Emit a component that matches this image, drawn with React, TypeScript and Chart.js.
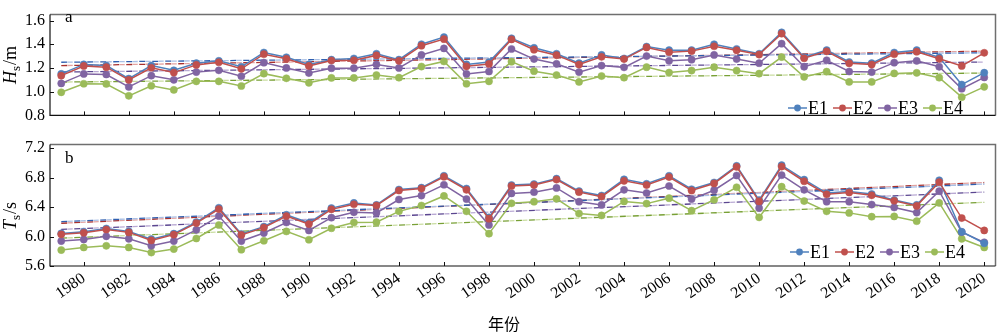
import React, { useEffect, useRef } from 'react';
import { Chart, registerables } from 'chart.js';
Chart.register(...registerables);

const years = [1979,1980,1981,1982,1983,1984,1985,1986,1987,1988,1989,1990,1991,1992,1993,1994,1995,1996,1997,1998,1999,2000,2001,2002,2003,2004,2005,2006,2007,2008,2009,2010,2011,2012,2013,2014,2015,2016,2017,2018,2019,2020];
const xTickLabels = [1980,1982,1984,1986,1988,1990,1992,1994,1996,1998,2000,2002,2004,2006,2008,2010,2012,2014,2016,2018,2020];
const seriesNames = ['E1', 'E2', 'E3', 'E4'];

// Panel a: significant wave height Hs (m)
const hsE1 = [1.15,1.23,1.22,1.11,1.22,1.18,1.24,1.26,1.21,1.33,1.29,1.23,1.27,1.28,1.32,1.27,1.40,1.46,1.23,1.25,1.45,1.37,1.32,1.24,1.31,1.28,1.38,1.35,1.35,1.40,1.36,1.32,1.50,1.29,1.35,1.25,1.24,1.33,1.35,1.29,1.06,1.16];
const hsE2 = [1.135,1.217,1.207,1.099,1.202,1.161,1.226,1.248,1.193,1.316,1.277,1.217,1.263,1.265,1.306,1.260,1.388,1.443,1.214,1.234,1.441,1.354,1.308,1.229,1.294,1.275,1.373,1.333,1.342,1.383,1.349,1.313,1.489,1.282,1.340,1.239,1.229,1.316,1.337,1.277,1.217,1.328];
const hsE3 = [1.07,1.15,1.145,1.04,1.135,1.10,1.165,1.18,1.13,1.245,1.20,1.157,1.198,1.198,1.23,1.20,1.31,1.365,1.15,1.17,1.36,1.275,1.235,1.165,1.22,1.205,1.30,1.26,1.27,1.31,1.275,1.24,1.405,1.21,1.265,1.17,1.165,1.245,1.26,1.21,1.025,1.12];
const hsE4 = [0.995,1.067,1.065,0.965,1.05,1.015,1.087,1.087,1.048,1.152,1.113,1.075,1.116,1.116,1.14,1.118,1.212,1.255,1.067,1.087,1.253,1.173,1.14,1.082,1.132,1.118,1.207,1.161,1.178,1.207,1.178,1.152,1.292,1.125,1.169,1.082,1.082,1.154,1.159,1.118,0.954,1.041];
const hsTrendStart = [1.248, 1.220, 1.166, 1.081];
const hsTrendEnd = [1.328, 1.342, 1.250, 1.157];
const hsTicks = [0.8, 1.0, 1.2, 1.4, 1.6];

// Panel b: wave period Ts (s)
const tsE1 = [6.043,6.065,6.109,6.070,5.965,6.039,6.196,6.391,6.035,6.135,6.296,6.187,6.387,6.457,6.430,6.639,6.665,6.826,6.652,6.261,6.700,6.713,6.787,6.617,6.557,6.778,6.717,6.826,6.643,6.735,6.961,6.496,6.970,6.774,6.591,6.613,6.578,6.496,6.430,6.765,6.065,5.909];
const tsE2 = [6.030,6.052,6.096,6.057,5.948,6.026,6.183,6.374,6.022,6.122,6.278,6.170,6.370,6.439,6.422,6.626,6.652,6.813,6.635,6.243,6.687,6.700,6.774,6.604,6.543,6.757,6.700,6.809,6.626,6.722,6.948,6.478,6.952,6.752,6.574,6.600,6.561,6.487,6.417,6.739,6.252,6.083];
const tsE3 = [5.939,5.961,6.004,5.970,5.874,5.939,6.091,6.278,5.939,6.048,6.191,6.083,6.257,6.330,6.322,6.504,6.557,6.704,6.509,6.157,6.587,6.604,6.661,6.474,6.430,6.635,6.591,6.687,6.509,6.630,6.830,6.387,6.835,6.635,6.474,6.474,6.435,6.396,6.326,6.617,6.061,5.922];
const tsE4 = [5.817,5.852,5.874,5.852,5.783,5.830,5.974,6.157,5.822,5.943,6.070,5.957,6.113,6.191,6.196,6.343,6.422,6.552,6.343,6.039,6.452,6.474,6.513,6.313,6.287,6.478,6.448,6.522,6.352,6.500,6.670,6.261,6.678,6.483,6.343,6.322,6.270,6.274,6.209,6.457,5.970,5.852];
const tsTrendStart = [6.203, 6.181, 6.097, 5.978];
const tsTrendEnd = [6.713, 6.735, 6.604, 6.465];
const tsTicks = [5.6, 6.0, 6.4, 6.8, 7.2];

const COLORS = ['#4F81BD', '#C0504D', '#8064A2', '#9BBB59'];
const TREND_DARK = ['#2F5FB0', '#A8302D', '#5B4690', '#78A035'];
const TREND_LIGHT = ['#A9C0E6', '#E3A3A1', '#B9A9D4', '#C9DDA0'];
const ORDER = [2, 1, 3, 4];
const SERIF = "'Liberation Serif', 'Times New Roman', serif";

type PanelCfg = {
  label: string;
  labelY: number;
  tMain: string;
  tSub: string;
  tRest: string;
  titleCY: number;
  yMin: number;
  yMax: number;
  yTicks: number[];
  series: number[][];
  trendStart: number[];
  trendEnd: number[];
  showXLabels: boolean;
  xAxisHeight: number;
  padTop: number;
  legendX: number;
  legendY: number;
  xTitleY?: number;
};

function makeChart(canvas: HTMLCanvasElement, cfg: PanelCfg) {
  const datasets: any[] = [];
  cfg.series.forEach((vals, i) => {
    datasets.push({
      label: seriesNames[i],
      data: years.map((y, k) => ({ x: y, y: vals[k] })),
      borderColor: COLORS[i],
      backgroundColor: COLORS[i],
      pointBackgroundColor: COLORS[i],
      pointBorderColor: COLORS[i],
      borderWidth: 1.5,
      pointRadius: 3.6,
      pointBorderWidth: 0.5,
      tension: 0,
      order: ORDER[i],
    });
  });
  cfg.series.forEach((_, i) => {
    const trend = [
      { x: years[0], y: cfg.trendStart[i] },
      { x: years[years.length - 1], y: cfg.trendEnd[i] },
    ];
    datasets.push({
      label: seriesNames[i] + ' trend',
      data: trend,
      borderColor: TREND_DARK[i],
      borderWidth: 1.3,
      borderDash: [6, 7],
      borderDashOffset: 0,
      pointRadius: 0,
      order: 10 + i,
    });
    datasets.push({
      label: seriesNames[i] + ' trend light',
      data: trend,
      borderColor: TREND_LIGHT[i],
      borderWidth: 1.3,
      borderDash: [5, 8],
      borderDashOffset: 6.5,
      pointRadius: 0,
      order: 20 + i,
    });
  });

  const decor = {
    id: 'decor',
    afterDraw(chart: any) {
      const { ctx, chartArea } = chart;
      const { left, top, right, bottom } = chartArea;
      const xs = chart.scales.x;
      const ys = chart.scales.y;
      ctx.save();
      ctx.lineWidth = 1.5;
      ctx.strokeStyle = '#6f6f6f';
      ctx.beginPath();
      ctx.moveTo(left, top);
      ctx.lineTo(right, top);
      ctx.lineTo(right, bottom);
      ctx.stroke();
      ctx.strokeStyle = '#111';
      ctx.lineWidth = 1.2;
      ctx.beginPath();
      ctx.moveTo(left, top);
      ctx.lineTo(left, bottom);
      ctx.lineTo(right, bottom);
      ctx.stroke();
      ctx.lineWidth = 1;
      ctx.beginPath();
      xTickLabels.forEach((v) => {
        const px = Math.round(xs.getPixelForValue(v)) + 0.5;
        ctx.moveTo(px, bottom);
        ctx.lineTo(px, bottom - 4);
      });
      cfg.yTicks.forEach((v) => {
        const py = Math.round(ys.getPixelForValue(v)) + 0.5;
        ctx.moveTo(left, py);
        ctx.lineTo(left + 4, py);
      });
      ctx.stroke();

      ctx.fillStyle = '#000';
      ctx.font = `17px ${SERIF}`;
      ctx.textAlign = 'left';
      ctx.textBaseline = 'alphabetic';
      ctx.fillText(cfg.label, 65, cfg.labelY);

      const mainFont = `italic 18px ${SERIF}`;
      const subFont = `13px ${SERIF}`;
      const restFont = `18px ${SERIF}`;
      ctx.font = mainFont;
      const w1 = ctx.measureText(cfg.tMain).width;
      ctx.font = subFont;
      const w2 = ctx.measureText(cfg.tSub).width;
      ctx.font = restFont;
      const w3 = ctx.measureText(cfg.tRest).width;
      const total = w1 + w2 + 1 + w3;
      ctx.translate(16, cfg.titleCY);
      ctx.rotate(-Math.PI / 2);
      let cx = -total / 2;
      ctx.font = mainFont;
      ctx.fillText(cfg.tMain, cx, 0);
      cx += w1;
      ctx.font = subFont;
      ctx.fillText(cfg.tSub, cx, 4);
      cx += w2 + 1;
      ctx.font = restFont;
      ctx.fillText(cfg.tRest, cx, 0);
      ctx.setTransform(1, 0, 0, 1, 0, 0);

      ctx.font = `18px ${SERIF}`;
      ctx.textBaseline = 'middle';
      seriesNames.forEach((name, i) => {
        const x0 = cfg.legendX + i * 45;
        const y0 = cfg.legendY;
        ctx.strokeStyle = COLORS[i];
        ctx.lineWidth = 1.5;
        ctx.beginPath();
        ctx.moveTo(x0, y0);
        ctx.lineTo(x0 + 19, y0);
        ctx.stroke();
        ctx.fillStyle = COLORS[i];
        ctx.beginPath();
        ctx.arc(x0 + 9.5, y0, 3.4, 0, Math.PI * 2);
        ctx.fill();
        ctx.fillStyle = '#000';
        ctx.fillText(name, x0 + 20, y0 + 1);
      });

      if (cfg.xTitleY !== undefined) {
        ctx.font = `16px 'Noto Sans CJK SC', sans-serif`;
        ctx.textAlign = 'center';
        ctx.textBaseline = 'middle';
        ctx.fillStyle = '#000';
        ctx.fillText('年份', 504, cfg.xTitleY);
      }
      ctx.restore();
    },
  };

  return new Chart(canvas, {
    type: 'line',
    data: { datasets },
    options: {
      animation: false,
      responsive: false,
      maintainAspectRatio: false,
      layout: { padding: { top: cfg.padTop, right: 2, left: 0, bottom: 0 } },
      plugins: { legend: { display: false }, tooltip: { enabled: false } },
      scales: {
        x: {
          type: 'linear',
          min: 1978.5,
          max: 2020.5,
          grid: { display: false, drawTicks: false },
          border: { display: false },
          afterBuildTicks: (s: any) => {
            s.ticks = xTickLabels.map((v) => ({ value: v }));
          },
          afterFit: (s: any) => {
            s.height = cfg.xAxisHeight;
          },
          ticks: {
            display: cfg.showXLabels,
            autoSkip: false,
            minRotation: 35,
            maxRotation: 35,
            padding: 3,
            color: '#000',
            font: { size: 16, family: SERIF },
            callback: (v: any) => String(v),
          },
        },
        y: {
          type: 'linear',
          min: cfg.yMin,
          max: cfg.yMax,
          grid: { display: false, drawTicks: false },
          border: { display: false },
          afterBuildTicks: (s: any) => {
            s.ticks = cfg.yTicks.map((v) => ({ value: v }));
          },
          afterFit: (s: any) => {
            s.width = 50;
          },
          ticks: {
            padding: 5,
            color: '#000',
            font: { size: 16, family: SERIF },
            callback: (v: any) => Number(v).toFixed(1),
          },
        },
      },
    } as any,
    plugins: [decor],
  });
}

export default function App() {
  const refA = useRef<HTMLCanvasElement>(null);
  const refB = useRef<HTMLCanvasElement>(null);

  useEffect(() => {
    const a = makeChart(refA.current!, {
      label: 'a',
      labelY: 22,
      tMain: 'H',
      tSub: 's',
      tRest: '/m',
      titleCY: 65,
      yMin: 0.8,
      yMax: 1.65,
      yTicks: hsTicks,
      series: [hsE1, hsE2, hsE3, hsE4],
      trendStart: hsTrendStart,
      trendEnd: hsTrendEnd,
      showXLabels: false,
      xAxisHeight: 12,
      padTop: 2,
      legendX: 788,
      legendY: 108,
    });
    const b = makeChart(refB.current!, {
      label: 'b',
      labelY: 33,
      tMain: 'T',
      tSub: 's',
      tRest: '/s',
      titleCY: 86,
      yMin: 5.6,
      yMax: 7.25,
      yTicks: tsTicks,
      series: [tsE1, tsE2, tsE3, tsE4],
      trendStart: tsTrendStart,
      trendEnd: tsTrendEnd,
      showXLabels: true,
      xAxisHeight: 69,
      padTop: 10,
      legendX: 790,
      legendY: 122,
      xTitleY: 194,
    });
    return () => {
      a.destroy();
      b.destroy();
    };
  }, []);

  return (
    <div style={{ position: 'absolute', left: 0, top: 0, width: 1000, height: 335, background: '#fff' }}>
      <canvas ref={refA} width={1000} height={130} style={{ position: 'absolute', left: 0, top: 0, width: 1000, height: 130 }} />
      <canvas ref={refB} width={1000} height={205} style={{ position: 'absolute', left: 0, top: 130, width: 1000, height: 205 }} />
    </div>
  );
}
